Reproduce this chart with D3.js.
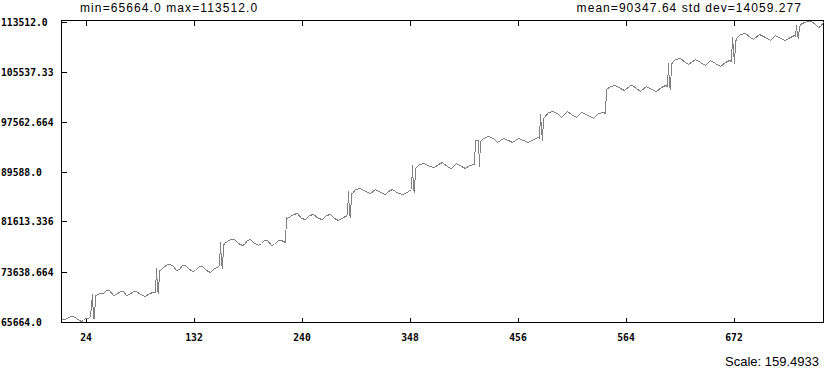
<!DOCTYPE html>
<html>
<head>
<meta charset="utf-8">
<script src="https://cdn.jsdelivr.net/npm/d3@7"></script>
<style>
  body { margin: 0; background: #fff; }
  svg { display: block; }
  .axis text { font-family: "DejaVu Sans Mono", monospace; font-weight: bold; fill: #000; }
  .caption { font-family: "Liberation Sans", Arial, sans-serif; fill: #000; }
</style>
</head>
<body>
<div id="chart"></div>
<script>
// chart size and plot frame
const width = 825,
      height = 369;
const frame = {left: 61.5, right: 823.5, top: 20.5, bottom: 322.5};

// series: sample index -> value
const sampleIndex = [
  0, 3, 6, 9, 12, 15, 18, 20, 22, 24, 27, 29,
  30, 31, 32, 33, 34,
  35, 38, 42, 45, 48, 52, 55, 59, 62, 65, 68, 72, 75, 79, 84, 88, 92, 94,
  95, 96, 97, 98,
  99, 102, 106, 109, 112, 115, 118, 121, 124, 127, 131, 134, 138, 141, 145, 149, 153, 158,
  159, 160, 161, 162,
  163, 166, 169, 173, 177, 181, 183, 186, 189, 192, 197, 200, 203, 206, 210, 213, 217, 220, 222, 224,
  225,
  226, 229, 232, 236, 240, 244, 248, 252, 257, 261, 265, 269, 273, 277, 282, 286,
  287, 288, 289, 290,
  291, 294, 299, 304, 309, 314, 319, 324, 327, 331, 337, 342, 347, 350,
  351, 352, 353, 354,
  355, 358, 363, 368, 373, 377, 381, 387, 390, 395, 400, 404, 408, 413,
  414, 417, 418,
  419, 422, 427, 432, 436, 442, 447, 451, 457, 462, 467, 472, 477, 478,
  479, 480, 481, 482,
  483, 487, 492, 497, 500, 506, 510, 515, 520, 525, 532, 537, 542, 544,
  545, 549, 554, 559, 563, 569, 571, 575, 579, 585, 590, 595, 600, 604, 606,
  607, 608, 609, 610,
  611, 614, 619, 624, 627, 634, 639, 644, 649, 654, 659, 664, 668, 670,
  671, 672, 673, 674,
  675, 679, 684, 689, 692, 698, 704, 709, 714, 719, 724, 729, 733, 734,
  735, 736, 737, 738,
  739, 743, 746, 750, 754, 757, 759, 762
];
const sampleValue = [
  65983, 65983, 66142, 66461, 66461, 66142, 65823, 65664, 65823, 66142, 66142, 66461,
  68216, 69970, 66142, 66142, 69811,
  69811, 70130, 70130, 70608, 70608, 69811, 69970, 70449, 70449, 69811, 69970, 70449, 70449, 69970, 69651, 70130, 70289, 70289,
  74117, 70768, 70130, 73798,
  73798, 74277, 74755, 74755, 74436, 73798, 73958, 74596, 74596, 74117, 73639, 73798, 74436, 74436, 73798, 73479, 74117, 74436,
  78264, 74915, 74117, 77785,
  78104, 78423, 78742, 78742, 78104, 77785, 77945, 78583, 78742, 78264, 77785, 78104, 78583, 78583, 77785, 77945, 78583, 78583, 78423, 78264,
  82251,
  82092, 82411, 82730, 82889, 82092, 81932, 82570, 82730, 82092, 81932, 82570, 82730, 82092, 81773, 82251, 82570,
  86398, 82889, 82251, 86079,
  86079, 86717, 86877, 86398, 86079, 86717, 86239, 85920, 86398, 86717, 86079, 85920, 86398, 86717,
  90545, 86717, 86398, 90067,
  90226, 90704, 90864, 90386, 90226, 90704, 91023, 90226, 90067, 90864, 90386, 90067, 90545, 90704,
  94532, 94532, 90386,
  94373, 94851, 95170, 94851, 94213, 94851, 94532, 94213, 94851, 94532, 94213, 94692, 95011, 94851,
  98679, 96446, 94532, 98041,
  98201, 98998, 99158, 98679, 98201, 99158, 98679, 98201, 98998, 98679, 98041, 98839, 98998, 98839,
  102666, 103145, 103304, 102826, 102507, 103304, 103304, 102826, 102347, 103145, 102666, 102347, 102985, 103304, 103145,
  106813, 103145, 102666, 106654,
  106973, 107451, 107611, 106973, 106654, 107451, 106973, 106494, 107292, 106813, 106335, 106973, 107292, 107132,
  110960, 108887, 106813, 110163,
  110801, 111439, 111598, 110960, 110641, 111439, 110960, 110482, 111279, 110801, 110482, 110960, 111279, 111120,
  112874, 111279, 110960, 112555,
  113034, 113353, 113512, 113512, 113034, 112555, 112715, 113353
];

const xTicks = [24, 132, 240, 348, 456, 564, 672];
const yTicks = [65664.0, 73638.664, 81613.336, 89588.0, 97562.664, 105537.33, 113512.0];
const yTickLabels = ['65664.0', '73638.664', '81613.336', '89588.0', '97562.664', '105537.33', '113512.0'];

const statsLeft = 'min=65664.0 max=113512.0';
const statsRight = 'mean=90347.64 std dev=14059.277';
const scaleLabel = 'Scale: 159.4933';

const svg = d3.select('#chart').append('svg')
    .attr('width', width)
    .attr('height', height);

svg.append('rect')
    .attr('width', width)
    .attr('height', height)
    .attr('fill', '#fff');

const x = d3.scaleLinear()
    .domain([0, d3.max(sampleIndex)])
    .range([frame.left, frame.right]);

const y = d3.scaleLinear()
    .domain([d3.min(sampleValue), d3.max(sampleValue)])
    .range([frame.bottom - 1, frame.top + 1]);

// bottom axis: ticks point inward
const xAxis = svg.append('g')
    .attr('class', 'axis')
    .attr('transform', `translate(0,${frame.bottom})`)
    .call(d3.axisBottom(x).tickValues(xTicks).tickSizeInner(-5).tickSizeOuter(0));
xAxis.select('.domain').remove();
xAxis.selectAll('line').attr('stroke', '#000').attr('shape-rendering', 'crispEdges');
xAxis.selectAll('text')
    .attr('y', 18.5)
    .attr('dy', 0)
    .style('font-size', '9.7px');

// top ticks, no labels
const xAxisTop = svg.append('g')
    .attr('transform', `translate(0,${frame.top})`)
    .call(d3.axisTop(x).tickValues(xTicks).tickSizeInner(-5).tickSizeOuter(0).tickFormat(''));
xAxisTop.select('.domain').remove();
xAxisTop.selectAll('line').attr('stroke', '#000').attr('shape-rendering', 'crispEdges');

// left axis, labels flush to the page edge
const yAxis = svg.append('g')
    .attr('class', 'axis')
    .attr('transform', `translate(${frame.left},0)`)
    .call(d3.axisLeft(y).tickValues(yTicks).tickSizeInner(-5).tickSizeOuter(0)
      .tickFormat((d, i) => yTickLabels[i]));
yAxis.select('.domain').remove();
yAxis.selectAll('line').attr('stroke', '#000').attr('shape-rendering', 'crispEdges');
yAxis.selectAll('text')
    .attr('x', 1 - frame.left)
    .attr('dy', '0.36em')
    .attr('text-anchor', 'start')
    .style('font-size', '9.7px');

// plot frame
svg.append('rect')
    .attr('x', frame.left)
    .attr('y', frame.top)
    .attr('width', frame.right - frame.left)
    .attr('height', frame.bottom - frame.top)
    .attr('fill', 'none')
    .attr('stroke', '#000')
    .attr('shape-rendering', 'crispEdges');

const line = d3.line()
    .x((d, i) => x(sampleIndex[i]))
    .y(d => y(d));

svg.append('path')
    .datum(sampleValue)
    .attr('d', line)
    .attr('fill', 'none')
    .attr('stroke', '#808080')
    .attr('stroke-width', 1)
    .attr('shape-rendering', 'crispEdges');

svg.append('text')
    .attr('class', 'caption')
    .attr('x', 80)
    .attr('y', 12)
    .style('font-size', '12px')
    .style('letter-spacing', '1.1px')
    .text(statsLeft);

svg.append('text')
    .attr('class', 'caption')
    .attr('x', 802)
    .attr('y', 12)
    .attr('text-anchor', 'end')
    .style('font-size', '12px')
    .style('letter-spacing', '1.05px')
    .text(statsRight);

svg.append('text')
    .attr('class', 'caption')
    .attr('x', 819)
    .attr('y', 366)
    .attr('text-anchor', 'end')
    .style('font-size', '13px')
    .text(scaleLabel);
</script>
</body>
</html>
